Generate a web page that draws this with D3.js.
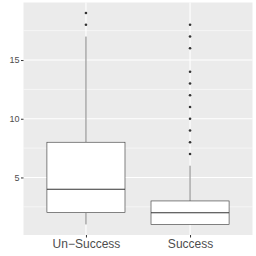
<!DOCTYPE html>
<html>
<head>
<meta charset="utf-8">
<script src="https://cdn.jsdelivr.net/npm/d3@7"></script>
<style>
  body { margin: 0; background: #fff; }
  svg { display: block; font-family: "Liberation Sans", Arial, sans-serif; }
</style>
</head>
<body>
<div id="chart"></div>
<script>
const categories = ["Un\u2212Success", "Success"];
const lowerWhisker = [1, 1];
const q1 = [2, 1];
const medians = [4, 2];
const q3 = [8, 3];
const upperWhisker = [17, 6];
const outliers = [
  [18, 19],
  [7, 8, 9, 10, 11, 12, 13, 14, 16, 17, 18]
];
const yTicks = [5, 10, 15];
const yMinorTicks = [2.5, 7.5, 12.5, 17.5];

const width = 256, height = 256;
const margin = { top: 2.5, right: 3.5, bottom: 21, left: 23.5 };

const svg = d3.select("#chart").append("svg")
  .attr("width", width)
  .attr("height", height);

// discrete x like ggplot: 0.6 expansion each side
const x = d3.scalePoint()
  .domain(categories)
  .range([margin.left, width - margin.right])
  .padding(0.6);
const boxW = x.step() * 0.75;

const y = d3.scaleLinear()
  .domain([0.1, 19.9])
  .range([height - margin.bottom, margin.top]);

// panel
svg.append("rect")
  .attr("x", margin.left)
  .attr("y", margin.top)
  .attr("width", width - margin.left - margin.right)
  .attr("height", height - margin.top - margin.bottom)
  .attr("fill", "#ebebeb");

const grid = svg.append("g");
grid.selectAll(".minor").data(yMinorTicks).join("line")
  .attr("x1", margin.left).attr("x2", width - margin.right)
  .attr("y1", d => y(d)).attr("y2", d => y(d))
  .attr("stroke", "#fff").attr("stroke-width", 0.55);
grid.selectAll(".major").data(yTicks).join("line")
  .attr("x1", margin.left).attr("x2", width - margin.right)
  .attr("y1", d => y(d)).attr("y2", d => y(d))
  .attr("stroke", "#fff").attr("stroke-width", 1.1);
grid.selectAll(".vmajor").data(categories).join("line")
  .attr("x1", d => x(d)).attr("x2", d => x(d))
  .attr("y1", margin.top).attr("y2", height - margin.bottom)
  .attr("stroke", "#fff").attr("stroke-width", 1.1);

// boxes
const boxes = svg.append("g").selectAll("g").data(categories).join("g");
boxes.append("line")
  .attr("x1", d => x(d)).attr("x2", d => x(d))
  .attr("y1", (d, i) => y(q3[i])).attr("y2", (d, i) => y(upperWhisker[i]))
  .attr("stroke", "#333").attr("stroke-width", 0.6);
boxes.append("line")
  .attr("x1", d => x(d)).attr("x2", d => x(d))
  .attr("y1", (d, i) => y(q1[i])).attr("y2", (d, i) => y(lowerWhisker[i]))
  .attr("stroke", "#333").attr("stroke-width", 0.6);
boxes.append("rect")
  .attr("x", d => x(d) - boxW / 2)
  .attr("width", boxW)
  .attr("y", (d, i) => y(q3[i]))
  .attr("height", (d, i) => y(q1[i]) - y(q3[i]))
  .attr("fill", "#fff").attr("stroke", "#333").attr("stroke-width", 0.6);
boxes.append("line")
  .attr("x1", d => x(d) - boxW / 2).attr("x2", d => x(d) + boxW / 2)
  .attr("y1", (d, i) => y(medians[i])).attr("y2", (d, i) => y(medians[i]))
  .attr("stroke", "#333").attr("stroke-width", 1.1);
boxes.each(function(d, i) {
  d3.select(this).selectAll("circle").data(outliers[i]).join("circle")
    .attr("cx", x(d))
    .attr("cy", v => y(v))
    .attr("r", 1.3)
    .attr("fill", "#333");
});

// axes
const yAxis = svg.append("g")
  .attr("transform", `translate(${margin.left},0)`)
  .call(d3.axisLeft(y).tickValues(yTicks).tickSize(2.5).tickPadding(1.5));
yAxis.select(".domain").remove();
yAxis.selectAll("line").attr("stroke", "#333");
yAxis.selectAll("text").attr("fill", "#4d4d4d").style("font-size", "9px");

const xAxis = svg.append("g")
  .attr("transform", `translate(0,${height - margin.bottom})`)
  .call(d3.axisBottom(x).tickSize(2.5).tickPadding(2));
xAxis.select(".domain").remove();
xAxis.selectAll("line").attr("stroke", "#333");
xAxis.selectAll("text").attr("fill", "#4d4d4d").style("font-size", "12px");
</script>
</body>
</html>
